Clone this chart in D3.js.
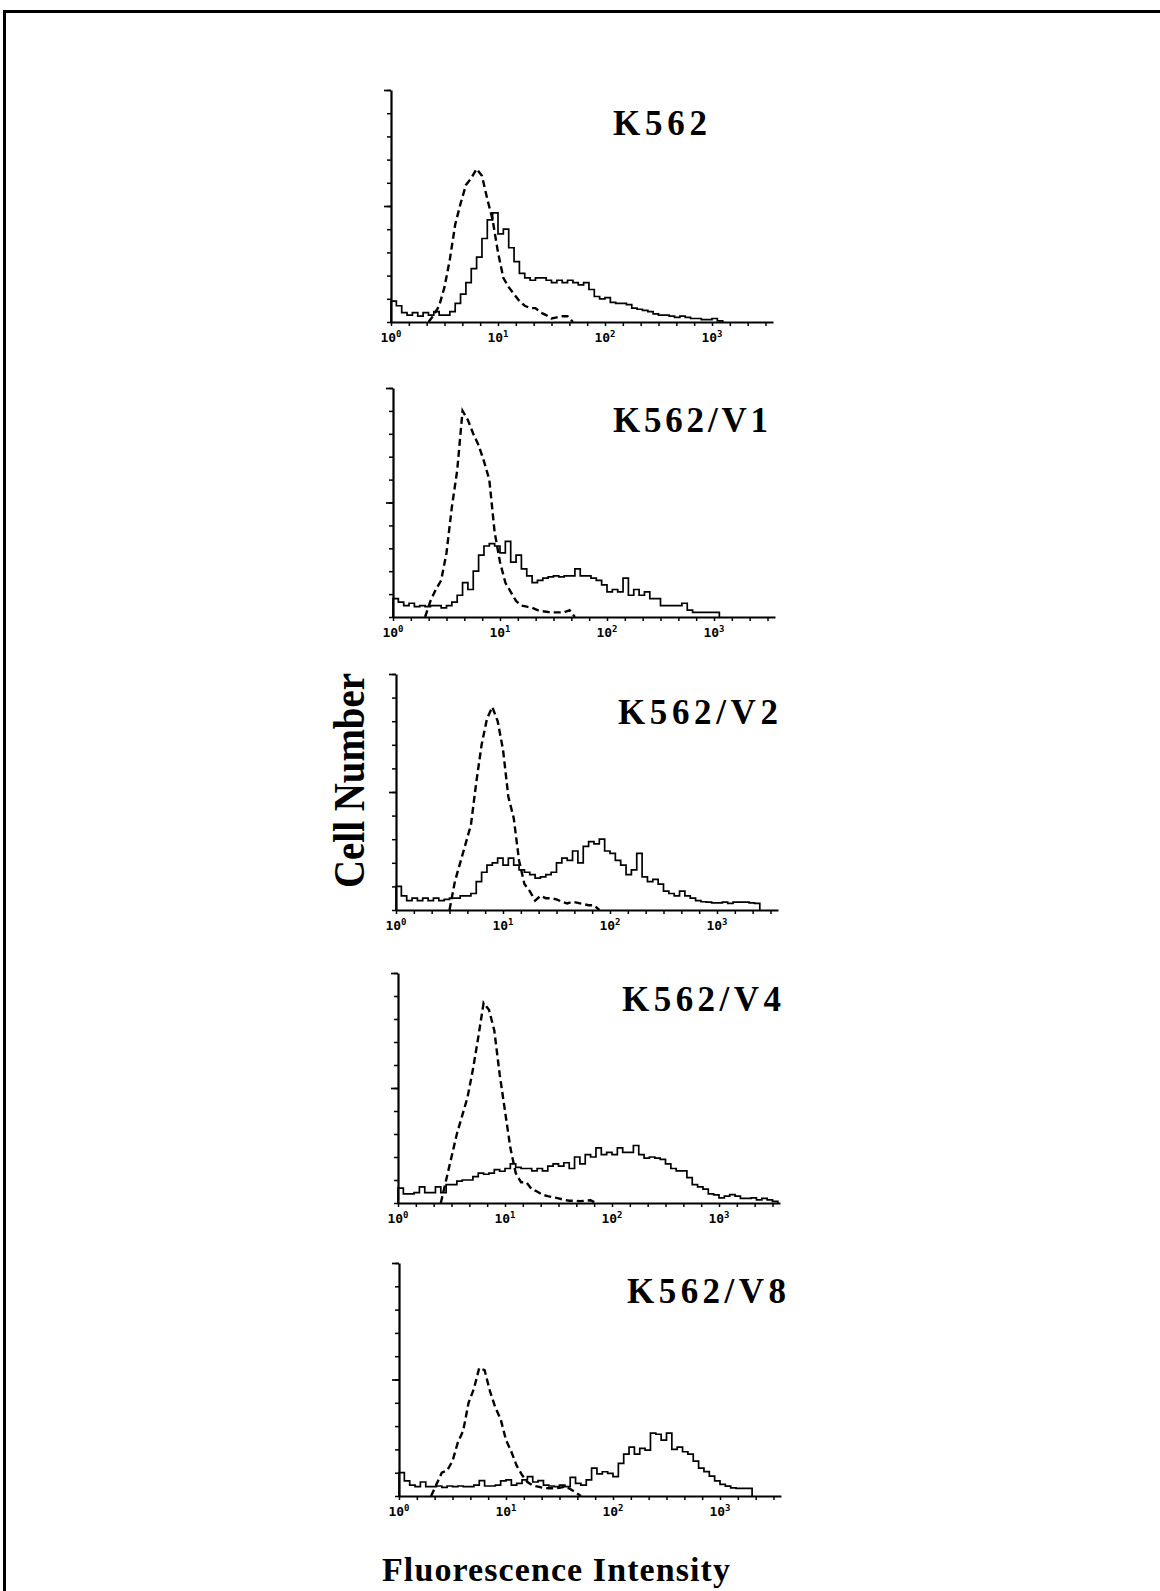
<!DOCTYPE html>
<html><head><meta charset="utf-8">
<script src="https://cdn.jsdelivr.net/npm/d3@7/dist/d3.min.js"></script>
<style>body{margin:0;background:#fff}svg{display:block}</style>
</head><body>
<svg id="c" width="1160" height="1591"></svg>
<script>
// ---------------- DATA ----------------
const panelNames = ["K562", "K562/V1", "K562/V2", "K562/V4", "K562/V8"];
const binStep = 0.05;                 // bin width in log10 decades
const decades = [0, 1, 2, 3];         // x tick labels: 10^0 ... 10^3
const yTicks = [0,10,20,30,40,50,60,70,80,90,100];
const yMajor = [50, 100];
const xAxisLabel = "Fluorescence Intensity";
const yAxisLabel = "Cell Number";

// solid histograms (test antibody), values in % of axis height, first bin at 10^0
const solid_K562 = [9,7,4,3,4,2.5,4,3,4.5,3,3,4.5,8,12,17,23,28,36,44,47,38,40,32,26,21,19,18,19,19,18,17,18,17,18,17,16,17,14,11,10,10.5,8.5,8,8,7.5,6,5.5,5,4.5,3.5,3,3,2.5,2,2.5,2,1.5,1.5,1,1,1.5,0.5];
const solid_V1 = [8,6.5,5,6,4.5,5,4.5,5,5,4,5,6.5,9.5,15,12,20,27,31,32,31,28,33,24,27,21,18,15,16,17,17.5,18,17.5,18,18,21,18,18,17,16,14,11,12,11,17,9.5,12,9.5,11,8,8,5,5,5,5,6,3,2,2,2,2,2];
const solid_V2 = [10,6,4,5,4,5,4,5,4,4.5,5,5,6,6,7,12,16,19,20,22,19,22,19,17,16,15,13.5,14,15,16,20,22,21,25,20,27,29,28,30,25,24,21,19,15,17,24,14,12,13,11,8,7,6,8,6,5,4,3.5,3.3,3,3,3.3,2.8,3.3,3.3,3.3,3,2.8];
const solid_V4 = [6.5,4,4,4.5,7,4.5,4.5,7,4.5,8,8,9.5,10,10,11.5,13,12.5,13,14.5,13.8,15,17,15.5,15,15,14,15,14,16,17,16,17.5,15,20,17,21,20,24,21,22,21,24,22,22,25,21,19.5,20,19.5,19,17,15,14,14,11,8,7,6,4,3.5,2.2,3,3.6,3,2,2,2.2,1.4,2,1.4,0.7];
const solid_V8 = [10,6.5,4.7,4,6,4,4,4.3,3.7,4.3,4,4.3,4,4,4.7,6.6,4.3,4.3,4.7,6.5,6.9,4.7,5.4,6.9,8.3,6,6.6,4.7,4.3,4,4.7,4,8,5.4,4.7,6.9,12,9.5,10.4,9.7,8.3,14,18,21,18,20.4,19.7,27,26.5,24,27,20,21,19,18,15,12,10.5,8.5,6.5,5,4.2,3.5,3.3,3.3,3.3];

// dashed histograms (control), first bin at 10^dashedStart
const dashedStart = [0.35, 0.3, 0.5, 0.4, 0.3];
const dashed_K562 = [0,3,7,15,27,42,51,59,62,66,63,53,44,30,19,15,12,9,7,6,6,4,3,1.5,2,2.5,2.5,0];
const dashed_V1 = [0,7,12,16,28,48,64,90,86,80,75,68,60,37,24,15,11,7,5,4.5,4,3,2.5,2.2,2,2,2,3,0];
const dashed_V2 = [0,12,20,28,36,54,70,81,86,80,68,48,39,21,11,8,4,6,5,5,4.5,3.5,2.8,3.5,3,2.5,2,2,0];
const dashed_V4 = [0,10,20,30,38,46,58,72,87,84,75,56,40,24,13,9,9,6,5,3.6,3,2.5,2,1.4,1,1,0.8,1,1.2,0];
const dashed_V8 = [0,5,10,11,15,23,28,40,46,55,54,45,38,33,24,19,13,9,6,4.5,4,3.5,3.3,3.3,3.5,4,3,1.5,0];

const solidSeries = [solid_K562, solid_V1, solid_V2, solid_V4, solid_V8];
const dashedSeries = [dashed_K562, dashed_V1, dashed_V2, dashed_V4, dashed_V8];

// ---------------- LAYOUT ----------------
const layout = [
  {x0:391, top:90,   base:322,  tx:613, ty:135,  tw:94},
  {x0:393, top:388,  base:617,  tx:613, ty:432,  tw:155},
  {x0:396, top:674,  base:910,  tx:618, ty:724,  tw:160},
  {x0:398, top:973,  base:1203, tx:622, ty:1011, tw:159},
  {x0:399, top:1263, base:1496, tx:627, ty:1303, tw:159}
];
const DEC = 107, SPAN = 3.57;

const svg = d3.select("#c");

// frame
svg.append("line").attr("x1",3).attr("x2",1160).attr("y1",11.5).attr("y2",11.5).attr("stroke","#000").attr("stroke-width",3);
svg.append("line").attr("x1",4.5).attr("x2",4.5).attr("y1",10).attr("y2",1591).attr("stroke","#000").attr("stroke-width",3);

layout.forEach((p, i) => {
  const g = svg.append("g");
  const x = d3.scaleLog().domain([1, Math.pow(10, SPAN)]).range([p.x0, p.x0 + SPAN * DEC]);
  const y = d3.scaleLinear().domain([0, 100]).range([p.base, p.top]);

  // x axis
  const minorX = d3.range(0, SPAN + 1e-9, 1/6).map(L => Math.pow(10, L));
  const xa = g.append("g").attr("transform", `translate(0,${p.base})`)
    .call(d3.axisBottom(x).tickValues(minorX).tickSize(4).tickSizeOuter(0).tickFormat(""));
  xa.select(".domain").attr("stroke-width", 2);
  xa.selectAll(".tick line").attr("stroke-width", 1.5);

  // y axis
  const ya = g.append("g").attr("transform", `translate(${p.x0},0)`)
    .call(d3.axisLeft(y).tickValues(yTicks).tickSize(4).tickSizeOuter(0).tickFormat(""));
  ya.select(".domain").attr("stroke-width", 2.2);
  ya.selectAll(".tick line").attr("stroke-width", 1.5);
  const ym = g.append("g").attr("transform", `translate(${p.x0},0)`)
    .call(d3.axisLeft(y).tickValues(yMajor).tickSize(7).tickSizeOuter(0).tickFormat(""));
  ym.select(".domain").remove();
  ym.selectAll(".tick line").attr("stroke-width", 1.7);

  // tick labels 10^n
  decades.forEach(d => {
    const t = g.append("text").attr("x", x(Math.pow(10, d))).attr("y", p.base + 20)
      .attr("text-anchor", "middle").attr("font-family", "DejaVu Sans Mono")
      .attr("font-weight", "bold").attr("font-size", 13).attr("fill", "#000");
    t.append("tspan").text("10");
    t.append("tspan").attr("dy", -5).attr("font-size", 9).text(String(d));
  });

  // dashed curve
  const dvals = dashedSeries[i];
  const dpts = dvals.map((v, k) => ({L: dashedStart[i] + k * binStep, v}));
  g.append("path").datum(dpts)
    .attr("d", d3.line().x(d => x(Math.pow(10, d.L))).y(d => y(d.v)).curve(d3.curveLinear))
    .attr("fill", "none").attr("stroke", "#000").attr("stroke-width", 2.4)
    .attr("stroke-dasharray", "7,4");

  // solid curve
  const svals = solidSeries[i];
  const spts = [{L: 0, v: 0}].concat(svals.map((v, k) => ({L: k * binStep, v})))
    .concat([{L: svals.length * binStep, v: 0}]);
  g.append("path").datum(spts)
    .attr("d", d3.line().x(d => x(Math.pow(10, d.L))).y(d => y(d.v)).curve(d3.curveStepAfter))
    .attr("fill", "none").attr("stroke", "#000").attr("stroke-width", 1.7);

  // title
  g.append("text").attr("x", p.tx).attr("y", p.ty)
    .attr("font-family", "Liberation Serif").attr("font-weight", "bold").attr("font-size", 35)
    .attr("textLength", p.tw).attr("lengthAdjust", "spacing")
    .attr("fill", "#000").text(panelNames[i]);
});

// axis titles
svg.append("text").attr("x", 382).attr("y", 1581)
  .attr("font-family", "Liberation Serif").attr("font-weight", "bold").attr("font-size", 34)
  .attr("textLength", 348).attr("lengthAdjust", "spacing")
  .attr("fill", "#000").text(xAxisLabel);

svg.append("text").attr("transform", "translate(364,888) rotate(-90)")
  .attr("x", 0).attr("y", 0)
  .attr("font-family", "Liberation Serif").attr("font-weight", "bold").attr("font-size", 44)
  .attr("textLength", 215).attr("lengthAdjust", "spacingAndGlyphs")
  .attr("fill", "#000").text(yAxisLabel);
</script>
</body></html>
